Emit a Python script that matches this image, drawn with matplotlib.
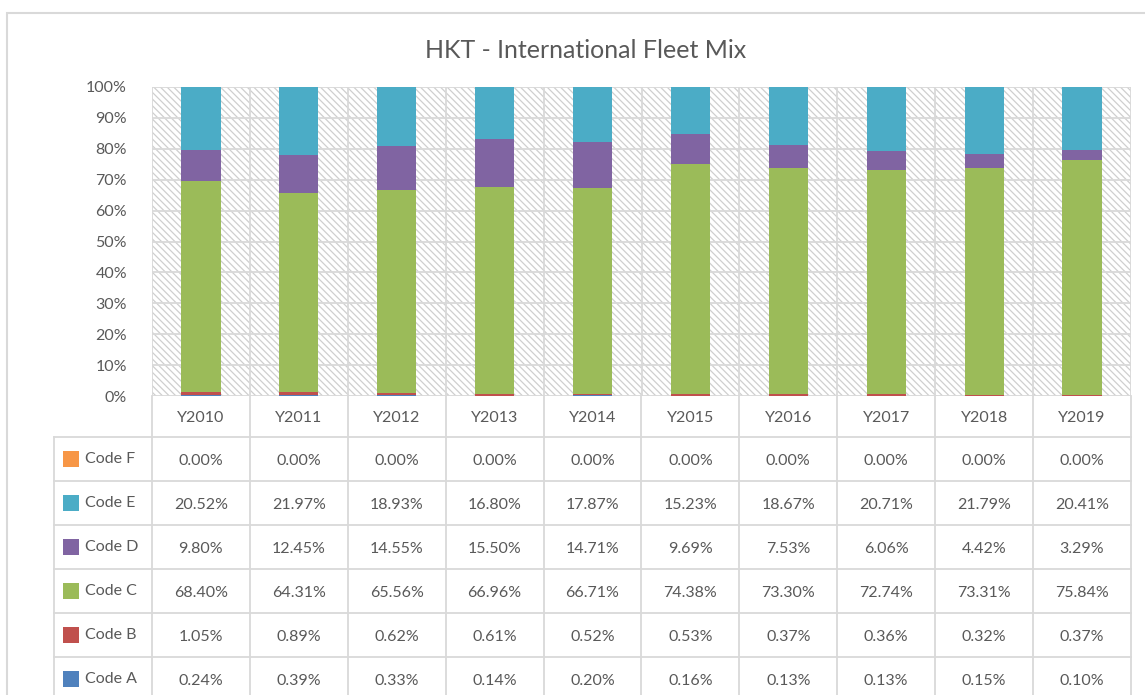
import matplotlib
matplotlib.use('Agg')
import matplotlib.pyplot as plt
from matplotlib.patches import Rectangle
import numpy as np

plt.rcParams['font.family'] = ['Lato', 'DejaVu Sans']
plt.rcParams['hatch.linewidth'] = 0.9

# data (percent of fleet)
years = ['Y2010', 'Y2011', 'Y2012', 'Y2013', 'Y2014', 'Y2015', 'Y2016', 'Y2017', 'Y2018', 'Y2019']
code_a = [0.24, 0.39, 0.33, 0.14, 0.20, 0.16, 0.13, 0.13, 0.15, 0.10]
code_b = [1.05, 0.89, 0.62, 0.61, 0.52, 0.53, 0.37, 0.36, 0.32, 0.37]
code_c = [68.40, 64.31, 65.56, 66.96, 66.71, 74.38, 73.30, 72.74, 73.31, 75.84]
code_d = [9.80, 12.45, 14.55, 15.50, 14.71, 9.69, 7.53, 6.06, 4.42, 3.29]
code_e = [20.52, 21.97, 18.93, 16.80, 17.87, 15.23, 18.67, 20.71, 21.79, 20.41]
code_f = [0.00, 0.00, 0.00, 0.00, 0.00, 0.00, 0.00, 0.00, 0.00, 0.00]

names = ['Code A', 'Code B', 'Code C', 'Code D', 'Code E', 'Code F']
series = [code_a, code_b, code_c, code_d, code_e, code_f]
colors = ['#4F81BD', '#C0504D', '#9BBB59', '#8064A2', '#4BACC6', '#F79646']

GRID = '#d9d9d9'
TXT = '#595959'
W, H = 1145, 695
FS = 11.5

fig = plt.figure(figsize=(W / 100, H / 100), dpi=100)
fig.patch.set_facecolor('white')

def fx(px):
    return px / W

def fy(py):
    return 1 - py / H

# outer chart border
fig.patches.append(Rectangle((fx(7), fy(720)), fx(1150) - fx(7), fy(13) - fy(720),
                             transform=fig.transFigure, fill=False, edgecolor=GRID, lw=1.5))

fig.text(fx(586), fy(51), 'HKT - International Fleet Mix', ha='center', va='center',
         fontsize=18, color=TXT)

# plot area
L, R, T, B = 152, 1131, 87, 396
ax = fig.add_axes([fx(L), fy(B), fx(R) - fx(L), fy(T) - fy(B)])
ax.set_xlim(-0.5, 9.5)
ax.set_ylim(0, 100)
x = np.arange(len(years))

ax.add_patch(Rectangle((-0.5, 0), 10, 100, facecolor='white', hatch='\\\\\\\\\\',
                       edgecolor='#cfcfcf', lw=0, zorder=0))
for v in range(0, 101, 10):
    ax.axhline(v, color=GRID, lw=1.3, zorder=1)
for xv in np.arange(-0.5, 10, 1):
    ax.axvline(xv, color=GRID, lw=1.3, zorder=1)

bottom = np.zeros(len(years))
for vals, c in zip(series, colors):
    vals = np.array(vals)
    ax.bar(x, vals, 0.4, bottom=bottom, color=c, zorder=2)
    bottom += vals

for s in ax.spines.values():
    s.set_visible(False)
ax.set_xticks([])
ax.set_yticks(range(0, 101, 10))
ax.set_yticklabels([f'{v}%' for v in range(0, 101, 10)], fontsize=FS, color=TXT)
ax.tick_params(axis='y', length=0, pad=18)

# data table
axt = fig.add_axes([fx(54), 0, fx(R) - fx(54), fy(B)])
axt.set_xlim(-1.5, 9.5)
axt.set_ylim(H, B)
axt.axis('off')

row_lines = [437, 481, 525, 569, 613, 657]
for yl in row_lines:
    axt.plot([-1.5, 9.5], [yl, yl], color=GRID, lw=1.3, clip_on=False)
axt.plot([-1.5, -1.5], [437, H], color=GRID, lw=1.3, clip_on=False)
for xv in np.arange(-0.5, 10, 1):
    axt.plot([xv, xv], [B, H], color=GRID, lw=1.3, clip_on=False)

for i, yr in enumerate(years):
    axt.text(i, 418, yr, ha='center', va='center', fontsize=FS, color=TXT)

row_y = [681, 637, 593, 549, 505, 461]  # A..F
for name, vals, c, ry in zip(names, series, colors, row_y):
    axt.add_patch(Rectangle((-1.5 + 9 / 97.9, ry + 6), 16 / 97.9, -16, facecolor=c,
                            edgecolor='none', clip_on=False))
    axt.text(-1.5 + 31 / 97.9, ry - 2, name, ha='left', va='center', fontsize=FS, color=TXT)
    for i, v in enumerate(vals):
        axt.text(i, ry, f'{v:.2f}%', ha='center', va='center', fontsize=FS, color=TXT)

fig.savefig('out.png', dpi=100, facecolor='white')
